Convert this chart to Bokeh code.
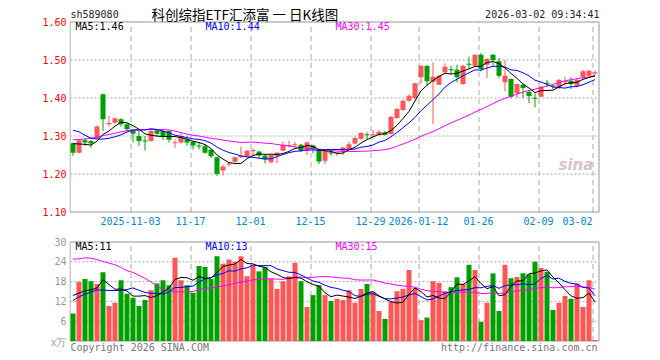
from bokeh.plotting import figure
from bokeh.models import Range1d, FixedTicker, Label, ColumnDataSource, PrintfTickFormatter
from bokeh.layouts import column
from bokeh.embed import file_html
from bokeh.resources import INLINE

# ---------------- data ----------------
symbol = "sh589080"
title_text = "科创综指ETF汇添富 一 日K线图"
stamp = "2026-03-02 09:34:41"

opens = [1.281, 1.256, 1.289, 1.287, 1.294, 1.410, 1.331, 1.335, 1.344, 1.331,
         1.315, 1.300, 1.2875, 1.287, 1.315, 1.313, 1.313, 1.282, 1.283, 1.291,
         1.284, 1.2745, 1.273, 1.264, 1.244, 1.209, 1.2255, 1.232, 1.244, 1.246,
         1.260, 1.259, 1.249, 1.231, 1.248, 1.261, 1.274, 1.276, 1.277, 1.262,
         1.275, 1.261, 1.235, 1.257, 1.254, 1.2614, 1.2658, 1.280, 1.293, 1.3035,
         1.3026, 1.3035, 1.3096, 1.3053, 1.3474, 1.3684, 1.393, 1.400, 1.4544, 1.4851,
         1.443, 1.4351, 1.4675, 1.4754, 1.4746, 1.4368, 1.490, 1.4851, 1.514, 1.4877,
         1.514, 1.4965, 1.4412, 1.450, 1.4123, 1.4351, 1.4167, 1.400, 1.4035, 1.440,
         1.4325, 1.428, 1.443, 1.4456, 1.4325, 1.4544, 1.4588, 1.466]
highs = [1.283, 1.291, 1.294, 1.289, 1.328, 1.411, 1.353, 1.347, 1.347, 1.333,
         1.318, 1.313, 1.300, 1.318, 1.318, 1.318, 1.315, 1.291, 1.309, 1.300,
         1.287, 1.283, 1.279, 1.266, 1.246, 1.225, 1.232, 1.246, 1.272, 1.263,
         1.2675, 1.260, 1.251, 1.252, 1.258, 1.285, 1.288, 1.284, 1.279, 1.286,
         1.277, 1.263, 1.263, 1.260, 1.259, 1.271, 1.285, 1.298, 1.310, 1.310,
         1.316, 1.316, 1.313, 1.3526, 1.374, 1.396, 1.410, 1.440, 1.4851, 1.4851,
         1.4939, 1.460, 1.4912, 1.485, 1.4877, 1.4877, 1.5088, 1.515, 1.5184, 1.505,
         1.5158, 1.5053, 1.500, 1.452, 1.438, 1.437, 1.420, 1.4123, 1.4325, 1.4474,
         1.437, 1.450, 1.456, 1.4544, 1.4526, 1.4737, 1.4737, 1.472]
lows = [1.248, 1.254, 1.274, 1.269, 1.291, 1.313, 1.325, 1.333, 1.325, 1.313,
        1.283, 1.274, 1.262, 1.285, 1.300, 1.289, 1.283, 1.269, 1.280, 1.274,
        1.265, 1.265, 1.253, 1.242, 1.195, 1.196, 1.220, 1.230, 1.242, 1.244,
        1.248, 1.242, 1.228, 1.228, 1.229, 1.260, 1.270, 1.270, 1.258, 1.250,
        1.255, 1.226, 1.226, 1.248, 1.247, 1.250, 1.263, 1.278, 1.290, 1.292,
        1.295, 1.301, 1.301, 1.3035, 1.345, 1.366, 1.390, 1.395, 1.4368, 1.434,
        1.3316, 1.4342, 1.463, 1.463, 1.4412, 1.4342, 1.4763, 1.483, 1.470, 1.4526,
        1.485, 1.4526, 1.4175, 1.400, 1.400, 1.400, 1.3868, 1.3754, 1.4018, 1.428,
        1.4237, 1.4237, 1.4325, 1.4237, 1.428, 1.450, 1.456, 1.4588]
closes = [1.256, 1.289, 1.283, 1.280, 1.325, 1.344, 1.334, 1.347, 1.331, 1.318,
          1.306, 1.287, 1.2865, 1.313, 1.306, 1.300, 1.290, 1.283, 1.300, 1.283,
          1.275, 1.2735, 1.256, 1.247, 1.200, 1.220, 1.227, 1.244, 1.248, 1.261,
          1.263, 1.249, 1.238, 1.250, 1.256, 1.277, 1.276, 1.278, 1.261, 1.283,
          1.266, 1.233, 1.262, 1.254, 1.256, 1.270, 1.278, 1.295, 1.308, 1.3025,
          1.3044, 1.3114, 1.3035, 1.3509, 1.371, 1.393, 1.4061, 1.4386, 1.4851, 1.4439,
          1.4561, 1.4588, 1.4825, 1.4737, 1.4544, 1.4851, 1.4877, 1.514, 1.4763, 1.5026,
          1.500, 1.4588, 1.4588, 1.4035, 1.4368, 1.4263, 1.4053, 1.399, 1.4298, 1.438,
          1.431, 1.4474, 1.444, 1.4368, 1.4474, 1.4702, 1.4719, 1.4675]
volumes = [8.3, 17.9, 18.8, 18.1, 17.3, 20.8, 10.6, 11.6, 18.4, 14.3,
           13.1, 10.6, 12.4, 15.4, 17.4, 18.4, 16.9, 25.2, 18.4, 16.9,
           14.6, 22.7, 22.4, 18.8, 25.7, 23.4, 24.7, 24.0, 25.7, 19.6,
           22.9, 21.1, 22.4, 18.9, 15.8, 18.1, 19.6, 23.7, 18.1, 10.3,
           13.9, 16.9, 13.9, 12.1, 12.8, 12.4, 15.4, 11.6, 15.8, 17.3,
           14.8, 9.1, 6.7, 11.9, 15.1, 15.8, 21.5, 16.0, 6.3, 7.1,
           18.1, 17.6, 15.1, 16.3, 19.3, 17.3, 23.1, 21.5, 5.8, 11.6,
           20.5, 9.1, 23.1, 19.0, 19.4, 20.5, 20.2, 24.0, 22.1, 21.0,
           9.4, 11.6, 13.6, 12.8, 17.4, 10.3, 18.4, 0.3]

# moving-average values at the start of the window (earlier sessions not shown)
ma5_head = [1.280, 1.279, 1.278, 1.276]
ma10_head = [1.315, 1.311, 1.302, 1.294, 1.292, 1.292, 1.294, 1.298, 1.303]
ma30_head = [1.290, 1.291, 1.292, 1.294, 1.297, 1.301, 1.304, 1.307, 1.311, 1.314,
             1.316, 1.317, 1.317, 1.317, 1.317, 1.317, 1.316, 1.313, 1.309, 1.305,
             1.302, 1.300, 1.297, 1.294, 1.292, 1.289, 1.287, 1.285, 1.283]
vma5_head = [13.8, 14.5, 15.2, 15.5]
vma10_head = [12.3, 13.4, 14.2, 14.8, 15.5, 15.4, 15.3, 15.3, 15.3]
vma30_head = [24.8, 24.9, 25.2, 25.1, 24.7, 24.1, 23.6, 23.1, 22.3, 21.3,
              20.8, 19.9, 19.0, 17.9, 16.8, 15.5, 15.0, 14.9, 14.9, 14.9,
              15.0, 15.6, 15.9, 16.1, 16.3, 16.7, 17.0, 17.5, 17.9]

ma_price_labels = ["MA5:1.46", "MA10:1.44", "MA30:1.45"]
ma_vol_labels = ["MA5:11", "MA10:13", "MA30:15"]

# session index of each dated gridline, and its label
date_index = [10, 20, 30, 40, 50, 58, 68, 78, 87]
date_labels = ["2025-11-03", "11-17", "12-01", "12-15", "12-29", "2026-01-12", "01-26", "02-09", "03-02"]

price_ticks = [1.10, 1.20, 1.30, 1.40, 1.50, 1.60]
vol_ticks = [6, 12, 18, 24, 30]
vol_unit = "x万"

# ---------------- styling ----------------
RED = "#ff5555"
GREEN = "#00a000"
GRID = "#aaaaaa"
BOX = "#999999"
MONO = "DejaVu Sans Mono"
CJK = "Noto Sans CJK SC"

n = len(closes)
SLOT = 6.0            # pixels per session
PPX = 0.1 / 38.0      # price per pixel
VPX = 1 / 3.3         # volume per pixel


def rolling(vals, win, head):
    out = []
    for i in range(len(vals)):
        if i < win - 1:
            out.append(head[i])
        else:
            out.append(sum(vals[i - win + 1:i + 1]) / win)
    return out


xs = [i + 5 / 12 for i in range(n)]
colors = [RED if c >= o else GREEN for o, c in zip(opens, closes)]
btop, bbot = [], []
for o, c in zip(opens, closes):
    t, b = max(o, c), min(o, c)
    if t - b < PPX:
        m = (t + b) / 2
        t, b = m + PPX / 2, m - PPX / 2
    btop.append(t)
    bbot.append(b)

src = ColumnDataSource(dict(x=xs, top=btop, bottom=bbot, high=highs, low=lows,
                            color=colors, vol=volumes,
                            ma5=rolling(closes, 5, ma5_head),
                            ma10=rolling(closes, 10, ma10_head),
                            ma30=rolling(closes, 30, ma30_head),
                            vma5=rolling(volumes, 5, vma5_head),
                            vma10=rolling(volumes, 10, vma10_head),
                            vma30=rolling(volumes, 30, vma30_head)))

x_range = Range1d(-1 / SLOT, n + 2 / SLOT)   # frame spans one pixel left of the box
half = 0.5 / SLOT


def plain_axis(ax):
    ax.axis_line_color = None
    ax.major_tick_line_color = None
    ax.minor_tick_line_color = None
    ax.major_tick_out = 0
    ax.major_tick_in = 0
    ax.minor_tick_out = 0
    ax.minor_tick_in = 0
    ax.major_label_standoff = 3
    ax.major_label_text_font = MONO
    ax.major_label_text_font_size = "10px"


def panel(frame_h, y0, y1, bottom_border, lo, hi, ticks, x_axis):
    p = figure(frame_width=531, frame_height=frame_h, x_range=x_range,
               y_range=Range1d(y0, y1), output_backend="svg", toolbar_location=None,
               min_border_left=69, min_border_right=60, min_border_top=0,
               min_border_bottom=bottom_border,
               x_axis_location=("below" if x_axis else None))
    p.outline_line_color = None
    p.grid.visible = False
    p.background_fill_color = "white"
    p.border_fill_color = "white"
    # horizontal dotted grid lines
    inner = [t for t in ticks if lo < t < hi]
    p.segment(x0=[0] * len(inner), x1=[n] * len(inner), y0=inner, y1=inner,
              line_color=GRID, line_width=1, line_dash="2 2")
    # vertical dashed date lines
    gx = [d + half for d in date_index]
    p.segment(x0=gx, x1=gx, y0=[lo] * len(gx), y1=[hi] * len(gx),
              line_color=GRID, line_width=1, line_dash="5 4")
    # the box
    bl, br = -half, n + half
    p.segment(x0=[bl, br, bl, bl], x1=[bl, br, br, br], y0=[lo, lo, lo, hi],
              y1=[hi, hi, lo, hi], line_color=BOX, line_width=1)
    plain_axis(p.yaxis[0])
    return p


# ---------------- price panel ----------------
P_LO, P_HI = price_ticks[0], price_ticks[-1]
p1 = panel(213, P_LO - 1.5 * PPX, P_HI + 21.5 * PPX, 17, P_LO, P_HI, price_ticks, True)
p1.yaxis.ticker = FixedTicker(ticks=price_ticks)
p1.yaxis.formatter = PrintfTickFormatter(format="%.2f")
p1.yaxis.major_label_text_color = "#ff0000"

label_pos = date_index[:-1] + [date_index[-1] - 2.5]
xa = p1.xaxis[0]
plain_axis(xa)
xa.ticker = FixedTicker(ticks=label_pos)
xa.major_label_overrides = {pos: lab for pos, lab in zip(label_pos, date_labels)}
xa.major_label_text_color = "#0088dd"

p1.add_layout(Label(x=489, y=49, x_units="screen", y_units="screen", text="sina",
                    text_font="DejaVu Sans", text_font_style="bold italic",
                    text_font_size="15px", text_color="#d6c4c4", text_baseline="middle"))

p1.segment(x0="x", y0="low", x1="x", y1="high", color="color", line_width=1, source=src)
p1.vbar(x="x", top="top", bottom="bottom", width=5 / 6, fill_color="color",
        line_color=None, source=src)
p1.line("x", "ma30", color="#ff00ff", line_width=1, source=src)
p1.line("x", "ma10", color="#0000ff", line_width=1, source=src)
p1.line("x", "ma5", color="#000000", line_width=1, source=src)

for txt, xx, col in zip(ma_price_labels, [6, 136, 266], ["#000000", "#0000ff", "#ff00ff"]):
    p1.add_layout(Label(x=xx, y=187, x_units="screen", y_units="screen", text=txt,
                        text_font=MONO, text_font_size="10px", text_color=col,
                        text_baseline="middle"))

p1.add_layout(Label(x=1, y=199, x_units="screen", y_units="screen", text=symbol,
                    text_font=MONO, text_font_size="10px", text_color="#222222",
                    text_baseline="middle"))
p1.add_layout(Label(x=82, y=200, x_units="screen", y_units="screen", text=title_text,
                    text_font=CJK, text_font_size="13.5px", text_color="#000000",
                    text_baseline="middle"))
p1.add_layout(Label(x=530, y=199, x_units="screen", y_units="screen", text=stamp,
                    text_font=MONO, text_font_size="10px", text_color="#222222",
                    text_baseline="middle", text_align="right"))

# ---------------- volume panel ----------------
V_LO, V_HI = 0, vol_ticks[-1]
unit_pos = -1.0 * VPX
p2 = panel(128, V_LO - 17.5 * VPX, V_HI + 11.5 * VPX, 0, V_LO, V_HI, vol_ticks, False)
p2.yaxis.ticker = FixedTicker(ticks=[unit_pos] + vol_ticks)
p2.yaxis.major_label_overrides = {unit_pos: vol_unit}
p2.yaxis.major_label_text_color = "#999999"

p2.vbar(x="x", top="vol", bottom=0, width=5 / 6, fill_color="color", line_color=None, source=src)
p2.line("x", "vma30", color="#ff00ff", line_width=1, source=src)
p2.line("x", "vma10", color="#0000ff", line_width=1, source=src)
p2.line("x", "vma5", color="#000000", line_width=1, source=src)

for txt, xx, col in zip(ma_vol_labels, [6, 136, 266], ["#000000", "#0000ff", "#ff00ff"]):
    p2.add_layout(Label(x=xx, y=112, x_units="screen", y_units="screen", text=txt,
                        text_font=MONO, text_font_size="10px", text_color=col,
                        text_baseline="middle"))

p2.add_layout(Label(x=1, y=11, x_units="screen", y_units="screen",
                    text="Copyright 2026 SINA.COM", text_font=MONO, text_font_size="10px",
                    text_color="#777777", text_baseline="middle"))
p2.add_layout(Label(x=528, y=11, x_units="screen", y_units="screen",
                    text="http://finance.sina.com.cn", text_font=MONO, text_font_size="10px",
                    text_color="#777777", text_baseline="middle", text_align="right"))

layout = column(p1, p2, spacing=0)
open("out.html", "w").write(file_html(layout, INLINE))
